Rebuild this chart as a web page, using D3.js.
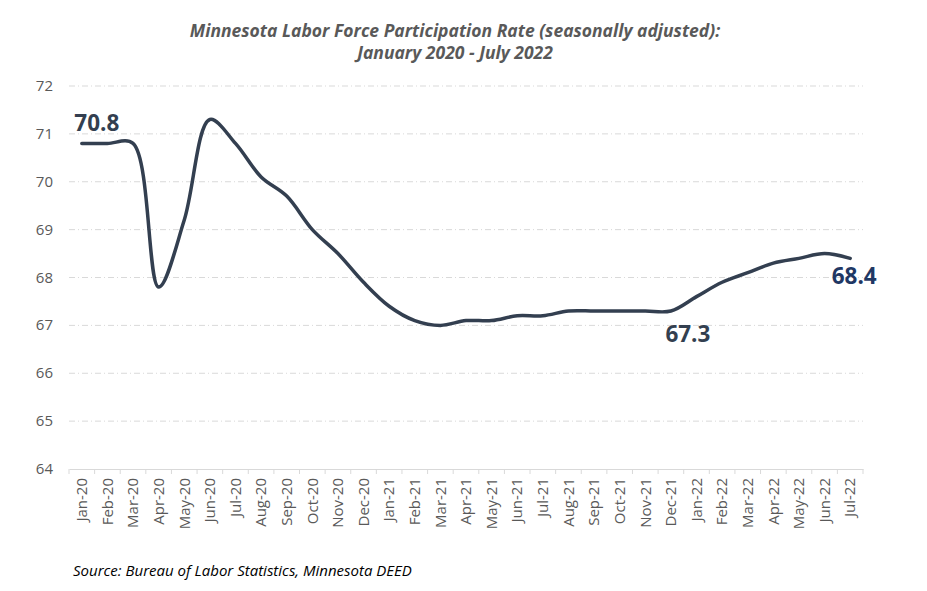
<html>
  <head>
    <script src="https://cdn.jsdelivr.net/npm/d3@7"></script>
    <meta charset="UTF-8">
    <style>
      body { margin: 0; background: #fff; }
      text { font-family: "Open Sans", "Noto Sans", sans-serif; }
    </style>
  </head>
  <body>
    <div id="chart"></div>
    <script>
    // months Jan-20 .. Jul-22
    var months = ["Jan-20","Feb-20","Mar-20","Apr-20","May-20","Jun-20","Jul-20","Aug-20","Sep-20","Oct-20","Nov-20","Dec-20",
                  "Jan-21","Feb-21","Mar-21","Apr-21","May-21","Jun-21","Jul-21","Aug-21","Sep-21","Oct-21","Nov-21","Dec-21",
                  "Jan-22","Feb-22","Mar-22","Apr-22","May-22","Jun-22","Jul-22"];
    var rate = [70.8, 70.8, 70.8, 67.8, 69.2, 71.3, 70.8, 70.1, 69.7, 69.0, 68.5, 67.9,
                67.4, 67.1, 67.0, 67.1, 67.1, 67.2, 67.2, 67.3, 67.3, 67.3, 67.3, 67.3,
                67.6, 67.9, 68.1, 68.3, 68.4, 68.5, 68.4];
    var yTicks = [64, 65, 66, 67, 68, 69, 70, 71, 72];
    // which points get a value label
    var labelled = ["Jan-20", "Dec-21", "Jul-22"];

    var W = 927, H = 591;
    var svg = d3.select("#chart").append("svg").attr("width", W).attr("height", H);

    var x = d3.scaleBand().domain(months).range([69, 863]);
    var y = d3.scaleLinear().domain([64, 72]).range([469, 86]);

    // title
    var title = svg.append("text")
      .attr("text-anchor", "middle")
      .style("font-weight", "bold").style("font-style", "italic")
      .style("font-size", "17.5px").style("fill", "#595959");
    title.append("tspan").attr("x", 455).attr("y", 37).text("Minnesota Labor Force Participation Rate (seasonally adjusted):");
    title.append("tspan").attr("x", 455).attr("y", 59).text("January 2020 - July 2022");

    // gridlines
    svg.append("g").selectAll("line")
      .data(yTicks.filter(d => d > 64))
      .enter().append("line")
      .attr("x1", 69).attr("x2", 863)
      .attr("y1", d => y(d)).attr("y2", d => y(d))
      .style("stroke", "#d9d9d9").style("stroke-width", 1)
      .style("stroke-dasharray", "6,3,1,3");

    // y axis labels
    svg.append("g").selectAll("text")
      .data(yTicks)
      .enter().append("text")
      .attr("x", 53).attr("y", d => y(d) + 5)
      .attr("text-anchor", "end")
      .style("font-size", "15px").style("fill", "#595959")
      .text(d => d);

    // x axis
    var xAxis = d3.axisBottom(x).tickSize(0).tickPadding(0);
    var gx = svg.append("g").attr("transform", "translate(0,469)").call(xAxis);
    gx.select(".domain").attr("stroke", "#d9d9d9");
    gx.selectAll("text")
      .attr("transform", "rotate(-90)")
      .attr("x", -9).attr("y", 0).attr("dy", "0.35em")
      .attr("text-anchor", "end")
      .style("font-family", "'Open Sans', sans-serif")
      .style("font-size", "15px").style("fill", "#595959");
    // tick marks at band boundaries
    gx.append("g").selectAll("line")
      .data(months.concat(["end"]))
      .enter().append("line")
      .attr("x1", (d, i) => 69 + i * x.step()).attr("x2", (d, i) => 69 + i * x.step())
      .attr("y1", 0).attr("y2", 5)
      .style("stroke", "#d9d9d9");

    // line
    var line = d3.line()
      .x((d, i) => x(months[i]) + x.bandwidth() / 2)
      .y(d => y(d))
      .curve(d3.curveCatmullRom.alpha(0.5));
    svg.append("path")
      .datum(rate)
      .attr("d", line)
      .style("fill", "none")
      .style("stroke", "#333f50")
      .style("stroke-width", 3.5)
      .style("stroke-linejoin", "round").style("stroke-linecap", "round");

    // value labels
    var labelPos = {"Jan-20": [15, -12, "#333f50"], "Dec-21": [17, 31, "#333f50"], "Jul-22": [4, 26, "#1f3864"]};
    svg.append("g").selectAll("text")
      .data(labelled)
      .enter().append("text")
      .attr("x", d => x(d) + x.bandwidth() / 2 + labelPos[d][0])
      .attr("y", d => y(rate[months.indexOf(d)]) + labelPos[d][1])
      .attr("text-anchor", "middle")
      .style("font-weight", "bold").style("font-size", "22.5px")
      .style("fill", d => labelPos[d][2])
      .text(d => rate[months.indexOf(d)].toFixed(1));

    // source
    svg.append("text")
      .attr("x", 73).attr("y", 576)
      .style("font-style", "italic").style("font-size", "15px").style("fill", "#000")
      .text("Source: Bureau of Labor Statistics, Minnesota DEED");
    </script>
  </body>
</html>
